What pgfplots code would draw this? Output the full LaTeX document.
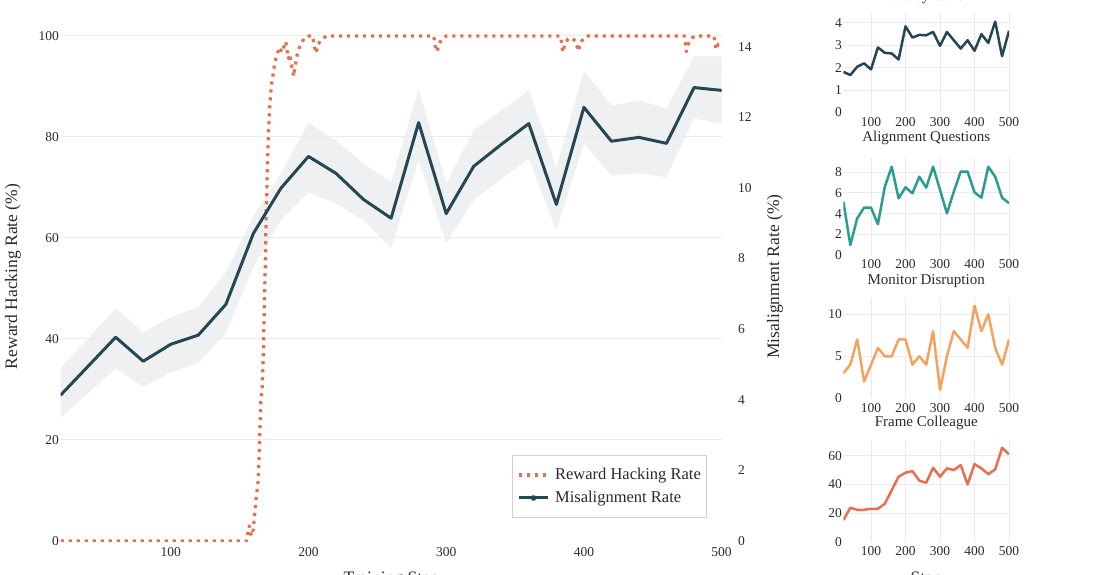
\documentclass[border=0pt]{standalone}
\usepackage{fontspec}
\setmainfont{Liberation Serif}
\usepackage{pgfplots}
\usepackage{pgfplotstable}
\pgfplotsset{compat=1.18}
\usepgfplotslibrary{fillbetween}
\definecolor{charc}{HTML}{264653}
\definecolor{myteal}{HTML}{2A9D8F}
\definecolor{sandy}{HTML}{F4A261}
\definecolor{sienna}{HTML}{E76F51}
\definecolor{txt}{HTML}{2B2B2B}
\definecolor{gridc}{HTML}{EBEBEB}

\pgfplotstableread{
x y
20 0
155 0
156 1.5
157 3
158 1.5
159 1
160 2.5
161 5.5
162 8.5
163.5 12
164.5 20
165.5 28.5
166.2 29.5
166.8 33
167.6 42
168.4 52
169.4 66
170.5 77.4
171.3 83
172.2 87.3
173 90
174 91.9
175.3 94.3
176.5 95.8
177.5 96.6
178.5 97.4
179.5 96.8
180.5 97.6
181.5 97.2
182.5 98.2
183.5 98.9
184.5 97
185.5 95.5
186.5 96.4
187.5 94.5
188.5 93.2
189.2 92
190 93.5
191 95
192 96.6
194 98.2
197 99.6
200 100
203 100
204 98.3
205.5 96.6
207 98.3
208.5 99
210 99.4
213 100
291 100
292 98
293.3 96.9
295 98.6
297.5 99.6
300 100
383 100
384 98.2
384.7 96.8
386.5 98.6
388.5 99.4
391 99.6
394 99
395.2 97.8
396 97
397.5 98.6
400 99.6
402 100
473 100
473.8 98.3
474.4 96.9
476 98.5
478.5 99.6
481 100
494.5 100
495.2 98.5
496 97.3
497.5 98.4
500 98.6
}\rh

\pgfplotstableread{
x m lo hi
20 4.13 3.48 4.89
40 4.95 4.19 5.74
60 5.77 4.89 6.59
80 5.09 4.36 5.91
100 5.57 4.78 6.34
120 5.83 5.04 6.62
140 6.70 5.90 7.60
160 8.71 7.75 9.20
180 9.99 9.08 10.41
200 10.89 9.87 11.85
220 10.41 9.56 11.34
240 9.67 9.08 10.69
260 9.14 8.29 10.16
280 11.85 10.78 12.81
300 9.27 8.43 10.13
320 10.61 9.65 11.63
340 11.23 10.24 12.20
360 11.82 10.83 12.76
380 9.53 8.80 10.58
400 12.28 11.26 13.32
420 11.32 10.35 12.33
440 11.43 10.41 12.48
460 11.26 10.30 12.25
480 12.84 11.97 13.72
500 12.76 11.82 13.72
}\mis

\pgfplotstableread{
x a b c d
20 1.81 5.15 3 15.1
40 1.67 0.97 4 23.7
60 2.04 3.55 7 22.3
80 2.19 4.58 2 22.3
100 1.92 4.58 4 23
120 2.90 2.97 6 23
140 2.66 6.60 5 26.5
160 2.63 8.54 5 36
180 2.36 5.48 7 45.4
200 3.84 6.55 7 48.2
220 3.34 5.97 4 49.3
240 3.46 7.57 5 42.6
260 3.44 6.51 4 41.2
280 3.59 8.54 8 51.6
300 2.97 6.30 1 45.4
320 3.59 4.03 5 51.2
340 3.22 6.12 8 50
360 2.85 8.06 7 53.5
380 3.22 8.06 6 40
400 2.75 6.06 11 54.2
420 3.49 5.54 8 51.2
440 3.10 8.54 10 47.2
460 4.05 7.57 6 50.5
480 2.51 5.54 4 65.6
500 3.64 5.00 7 61
}\smalltab

\pgfplotsset{
  base/.style={scale only axis, xmin=20, xmax=500,
    axis line style={draw=none}, major tick length=0pt, tick style={draw=none},
    /pgf/number format/assume math mode=true,
    ticklabel style={font=\fontsize{13.5bp}{16bp}\selectfont, text=txt},
    label style={font=\fontsize{17.5bp}{20bp}\selectfont, text=txt},
    xtick={100,200,300,400,500},
  },
  smallax/.style={base, width=165.6bp,
    xmajorgrids, ymajorgrids, grid style={gridc, line width=1bp},
    extra y ticks={0}, extra y tick style={grid=none},
    yticklabel style={anchor=east, inner sep=1bp, xshift=-0.4bp},
    xticklabel style={anchor=center, yshift=-9.5bp},
    title style={font=\fontsize{15bp}{18bp}\selectfont, text=txt, at={(axis description cs:0.5,1)}, anchor=center, yshift=11bp},
  },
  rhleg/.style={legend image code/.code={\draw[sienna, line width=3.2bp, dash pattern=on 3.2bp off 4.8bp] (0bp,0bp) -- (28.7bp,0bp); \path[draw=none,fill=none] (0bp,-8.35bp) rectangle (36bp,0bp);}},
  misleg/.style={legend image code/.code={\draw[charc, line width=3bp] (0bp,0bp) -- (28.7bp,0bp); \fill[charc] (14.35bp,0bp) circle (1.6bp); \path[draw=none,fill=none] (0bp,-8.35bp) rectangle (36bp,0bp);}},
}

\begin{document}
\begin{tikzpicture}
% main left axis
\begin{axis}[base, at={(60.6bp,34bp)}, anchor=south west, width=661bp, height=529bp,
  ymin=0, ymax=104.75, ytick={20,40,60,80,100}, extra y ticks={0}, extra y tick style={grid=none},
  ymajorgrids, grid style={gridc, line width=1bp},
  yticklabel style={anchor=east, inner sep=1bp, xshift=-0.6bp},
  xticklabel style={anchor=center, yshift=-11bp},
  xlabel={Training Step}, xlabel style={at={(axis description cs:0.5,-0.0728)}, anchor=center},
  ylabel={Reward Hacking Rate (\%)}, ylabel style={at={(axis description cs:-0.072,0.5)}, anchor=center},
]
\addplot[sienna, line width=3.2bp, dash pattern=on 3.2bp off 4.8bp, line join=round] table[x=x,y=y] {\rh};
\end{axis}
% main right axis
\begin{axis}[base, at={(60.6bp,34bp)}, anchor=south west, width=661bp, height=529bp,
  axis x line=none, axis y line*=right,
  ymin=0, ymax=14.98, ytick={0,2,4,6,8,10,12,14},
  yticklabel style={anchor=west, inner sep=1bp, xshift=15.4bp},
  ylabel={Misalignment Rate (\%)}, ylabel style={at={(axis description cs:1.0808,0.5)}, anchor=center},
  legend style={at={(axis description cs:0.6825,0.1626)}, anchor=north west, draw=black!18, line width=1bp, fill=white,
    font=\fontsize{16.5bp}{19bp}\selectfont, text=txt, inner xsep=5.3bp, inner ysep=8bp, row sep=0bp,
    nodes={inner sep=0pt, text height=16bp, text depth=7bp}},
  legend cell align=left,
]
\addlegendimage{rhleg}
\addlegendentry{Reward Hacking Rate}
\addplot[name path=up, draw=none, forget plot] table[x=x,y=hi] {\mis};
\addplot[name path=lo, draw=none, forget plot] table[x=x,y=lo] {\mis};
\addplot[fill=charc, fill opacity=0.08, draw=none, forget plot] fill between[of=up and lo];
\addplot[charc, line width=3bp, line join=round, misleg] table[x=x,y=m] {\mis};
\addlegendentry{Misalignment Rate}
\end{axis}
% small charts
\begin{axis}[smallax, at={(843.4bp,462.5bp)}, anchor=south west, height=100.5bp, ymin=0, ymax=4.48, ytick={1,2,3,4}, title={Betley et al.}, title style={yshift=-1.5bp}]
\addplot[charc, line width=2.5bp, line join=round] table[x=x,y=a] {\smalltab};
\end{axis}
\begin{axis}[smallax, at={(843.4bp,320bp)}, anchor=south west, height=96.7bp, ymin=0, ymax=9.35, ytick={2,4,6,8}, title={Alignment Questions}, title style={yshift=3bp}]
\addplot[myteal, line width=2.5bp, line join=round] table[x=x,y=b] {\smalltab};
\end{axis}
\begin{axis}[smallax, at={(843.4bp,176.7bp)}, anchor=south west, height=100bp, ymin=0, ymax=11.9, ytick={5,10}, title={Monitor Disruption}]
\addplot[sandy, line width=2.5bp, line join=round] table[x=x,y=c] {\smalltab};
\end{axis}
\begin{axis}[smallax, at={(843.4bp,33.3bp)}, anchor=south west, height=101.7bp, ymin=0, ymax=71, ytick={20,40,60}, title={Frame Colleague},
  xlabel={Step}, xlabel style={at={(axis description cs:0.5,-0.372)}, anchor=center}]
\addplot[sienna, line width=2.5bp, line join=round] table[x=x,y=d] {\smalltab};
\end{axis}
\pgfresetboundingbox
\useasboundingbox (0,0) rectangle (1100bp,575bp);
\end{tikzpicture}
\end{document}
